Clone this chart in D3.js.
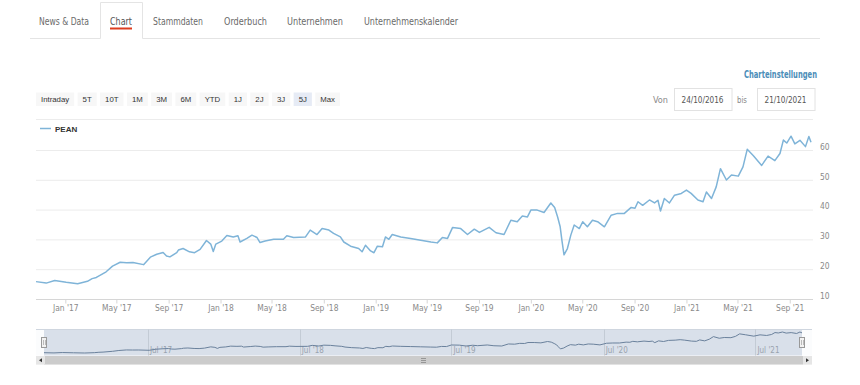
<!DOCTYPE html>
<html>
<head>
<meta charset="utf-8">
<script src="https://cdn.jsdelivr.net/npm/d3@7"></script>
<style>
  body { margin: 0; background: #fff; }
  svg { display: block; }
</style>
</head>
<body>
<div id="chart"></div>
<script>
// PEAN, 5J-Ansicht (24.10.2016 - 21.10.2021)
var dates = [
  "2016-10-24","2016-11-17","2016-12-07","2017-01-03","2017-01-30","2017-02-22","2017-03-05","2017-03-15",
  "2017-04-07","2017-04-22","2017-05-10","2017-05-25","2017-06-09","2017-07-04","2017-07-20","2017-08-04",
  "2017-08-19","2017-08-27","2017-09-04","2017-09-20","2017-09-24","2017-10-05","2017-10-20","2017-11-01",
  "2017-11-14","2017-11-29","2017-12-09","2017-12-15","2017-12-21","2018-01-04","2018-01-16","2018-01-31",
  "2018-02-11","2018-02-16","2018-03-04","2018-03-16","2018-03-28","2018-04-04","2018-04-16","2018-05-06",
  "2018-05-29","2018-06-06","2018-06-22","2018-07-20","2018-07-31","2018-08-16","2018-08-28","2018-09-13",
  "2018-09-24","2018-10-10","2018-10-18","2018-11-03","2018-11-22","2018-11-30","2018-12-08","2018-12-20",
  "2018-12-28","2019-01-05","2019-01-17","2019-01-24","2019-02-01","2019-02-09","2019-03-01","2019-03-24",
  "2019-04-17","2019-05-11","2019-05-26","2019-06-07","2019-06-19","2019-07-01","2019-07-20","2019-08-05",
  "2019-08-21","2019-09-02","2019-09-25","2019-10-11","2019-10-30","2019-11-15","2019-11-30","2019-12-12",
  "2019-12-24","2020-01-01","2020-01-16","2020-02-01","2020-02-17","2020-02-26","2020-03-04","2020-03-10",
  "2020-03-14","2020-03-19","2020-03-27","2020-04-04","2020-04-12","2020-04-24","2020-05-02","2020-05-13",
  "2020-05-25","2020-06-06","2020-06-22","2020-07-08","2020-07-23","2020-08-08","2020-08-24","2020-09-02",
  "2020-09-09","2020-09-20","2020-10-06","2020-10-18","2020-10-26","2020-11-01","2020-11-10","2020-11-22",
  "2020-12-04","2020-12-20","2021-01-01","2021-01-12","2021-01-28","2021-02-09","2021-02-17","2021-03-01",
  "2021-03-12","2021-03-22","2021-04-05","2021-04-17","2021-05-03","2021-05-14","2021-05-24","2021-06-07",
  "2021-06-27","2021-07-12","2021-07-28","2021-08-09","2021-08-17","2021-08-25","2021-09-04","2021-09-13",
  "2021-09-25","2021-10-08","2021-10-16","2021-10-21"
];
var prices = [
  16.0, 15.5, 16.4, 15.8, 15.3, 16.1, 17.0, 17.4,
  19.3, 21.2, 22.5, 22.3, 22.4, 21.7, 24.2, 25.2,
  25.8, 24.6, 24.3, 25.7, 26.6, 27.1, 26.0, 25.7,
  26.8, 29.8, 28.6, 26.1, 28.6, 29.6, 31.5, 31.0,
  31.4, 29.3, 30.5, 31.6, 30.8, 29.1, 29.6, 30.2,
  30.2, 31.4, 30.8, 31.0, 33.3, 31.8, 33.8, 33.3,
  32.2, 31.0, 29.3, 27.9, 27.1, 26.0, 28.2, 26.3,
  25.7, 27.9, 27.7, 31.0, 30.2, 31.8, 31.0, 30.5,
  29.9, 29.3, 29.0, 30.8, 30.5, 34.2, 33.8, 31.8,
  33.6, 32.5, 34.2, 32.4, 31.8, 36.6, 36.1, 38.0,
  37.7, 40.0, 40.0, 39.2, 42.4, 40.9, 37.7, 34.4,
  29.9, 25.0, 27.1, 31.6, 35.0, 33.8, 36.1, 34.4,
  36.6, 36.1, 34.4, 38.3, 38.9, 38.9, 40.9, 40.6,
  42.8, 41.6, 43.4, 42.4, 43.3, 39.7, 43.9, 42.4,
  45.0, 45.6, 46.7, 45.6, 43.4, 42.8, 46.1, 43.9,
  47.8, 53.9, 50.1, 51.8, 51.4, 54.5, 60.4, 58.3,
  55.0, 58.1, 56.6, 59.0, 63.5, 62.5, 64.8, 62.2,
  63.4, 61.3, 64.7, 62.8
];
var seriesName = "PEAN";
var xTicks = ["2017-01-01","2017-05-01","2017-09-01","2018-01-01","2018-05-01","2018-09-01","2019-01-01",
  "2019-05-01","2019-09-01","2020-01-01","2020-05-01","2020-09-01","2021-01-01","2021-05-01","2021-09-01"];
var yTicks = [10, 20, 30, 40, 50, 60];
var navTicks = ["2017-07-01","2018-07-01","2019-07-01","2020-07-01","2021-07-01"];
var tabs = ["News & Data", "Chart", "Stammdaten", "Orderbuch", "Unternehmen", "Unternehmenskalender"];
var tabX = [39, 110, 153, 224, 287, 364];
var tabW = [50, 22, 50, 43, 56, 94];
var ranges = ["Intraday","5T","10T","1M","3M","6M","YTD","1J","2J","3J","5J","Max"];
var fromDate = "24/10/2016", toDate = "21/10/2021";

var parse = d3.timeParse("%Y-%m-%d");
var narrow = "'Liberation Sans Narrow', 'DejaVu Sans Condensed', Arial, sans-serif";
var sans = "'Liberation Sans', Arial, sans-serif";
var lineColor = "#7fb4d8";

var data = dates.map(function(d, i) { return {date: parse(d), value: prices[i]}; });

var svg = d3.select("#chart").append("svg").attr("width", 860).attr("height", 385);

function draw_tabs()
{
  var g = svg.append("g");
  g.append("path")
    .attr("d", "M30,38.5H100.5M142.5,38.5H820M100.5,38.5V2.5H142.5V38.5")
    .attr("fill", "none").attr("stroke", "#e4e4e4");
  g.selectAll("text").data(tabs).enter().append("text")
    .attr("x", function(d, i) { return tabX[i]; })
    .attr("y", 24.5)
    .attr("font-family", narrow).attr("font-size", 10.5)
    .attr("textLength", function(d, i) { return tabW[i]; })
    .attr("lengthAdjust", "spacingAndGlyphs")
    .attr("fill", function(d, i) { return i == 1 ? "#555" : "#6a6a6a"; })
    .text(function(d) { return d; });
  g.append("rect").attr("x", 110).attr("y", 27.5).attr("width", 22).attr("height", 2).attr("fill", "#dd3c1e");
}

function draw_controls()
{
  var g = svg.append("g").attr("font-family", sans).attr("font-size", 7.8);
  var bx = 36;
  ranges.forEach(function(r, i) {
    var b = g.append("g");
    var rect = b.append("rect").attr("y", 92.5).attr("height", 13.5)
      .attr("fill", r == "5J" ? "#e6ebf5" : "#f7f7f7");
    var t = b.append("text").attr("y", 102).attr("fill", "#333").text(r);
    var w = t.node().getComputedTextLength() + 10;
    rect.attr("x", bx).attr("width", w);
    t.attr("x", bx + w / 2).attr("text-anchor", "middle");
    bx += w + 3.4;
  });

  svg.append("text").attr("x", 817).attr("y", 78).attr("text-anchor", "end")
    .attr("font-family", narrow).attr("font-size", 9.6).attr("font-weight", "bold")
    .attr("textLength", 73).attr("lengthAdjust", "spacingAndGlyphs")
    .attr("fill", "#4b8db8").text("Charteinstellungen");

  var f = svg.append("g").attr("font-family", narrow).attr("font-size", 8.4).attr("fill", "#888");
  f.append("text").attr("x", 653).attr("y", 103).attr("textLength", 15).attr("lengthAdjust", "spacingAndGlyphs").text("Von");
  f.append("text").attr("x", 737).attr("y", 103).attr("textLength", 10).attr("lengthAdjust", "spacingAndGlyphs").text("bis");
  [[674.5, fromDate], [757.5, toDate]].forEach(function(p) {
    f.append("rect").attr("x", p[0]).attr("y", 88.5).attr("width", 57.5).attr("height", 22)
      .attr("fill", "#fff").attr("stroke", "#e2e2e2");
    f.append("text").attr("x", p[0] + 7).attr("y", 103)
      .attr("textLength", 42).attr("lengthAdjust", "spacingAndGlyphs")
      .attr("fill", "#555").text(p[1]);
  });

  svg.append("line").attr("x1", 36).attr("x2", 813).attr("y1", 119.5).attr("y2", 119.5)
    .attr("stroke", "#ececec");
}

function draw_main()
{
  var x = d3.scaleTime().domain([parse("2016-10-24"), parse("2021-10-21")]).range([36, 811]);
  var y = d3.scaleLinear().domain([10, 60]).range([299.5, 150.5]);

  // legend
  svg.append("line").attr("x1", 40).attr("x2", 51).attr("y1", 128.5).attr("y2", 128.5)
    .attr("stroke", lineColor).attr("stroke-width", 1.5);
  svg.append("text").attr("x", 55).attr("y", 131.5)
    .attr("font-family", sans).attr("font-size", 8).attr("font-weight", "bold")
    .attr("fill", "#333").text(seriesName);

  svg.append("g").selectAll("line").data(yTicks.slice(1)).enter().append("line")
    .attr("x1", 36).attr("x2", 813)
    .attr("y1", function(d) { return y(d); }).attr("y2", function(d) { return y(d); })
    .attr("stroke", "#ececec");

  var fmt = function(d) { return d3.timeFormat("%b")(d) + " '" + d3.timeFormat("%y")(d); };
  var x_axis = d3.axisBottom(x).tickValues(xTicks.map(parse)).tickFormat(fmt).tickSize(4).tickSizeOuter(0);
  var gx = svg.append("g").attr("class", "x_axis").attr("transform", "translate(0,299.5)").call(x_axis);
  gx.select(".domain").remove();
  gx.selectAll(".tick line").attr("stroke", "#d6d6d6");
  gx.selectAll(".tick text").attr("font-family", narrow).attr("font-size", 8.4)
    .attr("fill", "#8a8a8a").attr("y", 6).attr("dy", "0.71em");
  svg.append("line").attr("x1", 36).attr("x2", 813).attr("y1", 299.5).attr("y2", 299.5)
    .attr("stroke", "#d6d6d6");

  var y_axis = d3.axisRight(y).tickValues(yTicks).tickSize(0);
  var gy = svg.append("g").attr("class", "y_axis").attr("transform", "translate(820,0)").call(y_axis);
  gy.select(".domain").remove();
  gy.selectAll(".tick text").attr("x", 0).attr("dy", "-0.15em")
    .attr("font-family", narrow).attr("font-size", 8.4).attr("fill", "#8a8a8a");

  var line = d3.line().x(function(d) { return x(d.date); }).y(function(d) { return y(d.value); });
  svg.append("path").datum(data).attr("d", line)
    .attr("fill", "none").attr("stroke", lineColor).attr("stroke-width", 1.5)
    .attr("stroke-linejoin", "round");
}

function draw_navigator()
{
  var top = 329.5, bottom = 355.5;
  var nx = d3.scaleTime().domain([parse("2016-10-24"), parse("2021-10-21")]).range([44, 802]);
  var ny = d3.scaleLinear().domain([d3.min(prices), d3.max(prices)]).range([353, 332]);
  var g = svg.append("g");

  g.append("rect").attr("x", 36).attr("y", top).attr("width", 776).attr("height", bottom - top)
    .attr("fill", "#fbfcfd");
  g.append("rect").attr("x", 44).attr("y", top).attr("width", 758).attr("height", bottom - top)
    .attr("fill", "#d9e0ea");
  g.append("line").attr("x1", 36).attr("x2", 812).attr("y1", top).attr("y2", top).attr("stroke", "#cfd6df");

  g.selectAll("line.grid").data(navTicks.map(parse)).enter().append("line")
    .attr("class", "grid")
    .attr("x1", function(d) { return Math.round(nx(d)) + 0.5; })
    .attr("x2", function(d) { return Math.round(nx(d)) + 0.5; })
    .attr("y1", top).attr("y2", bottom).attr("stroke", "#c3cbd5");
  g.selectAll("text").data(navTicks.map(parse)).enter().append("text")
    .attr("x", function(d) { return nx(d) + 2; }).attr("y", 353)
    .attr("font-family", narrow).attr("font-size", 8).attr("fill", "#99a3ae")
    .text(function(d) { return d3.timeFormat("%b")(d) + " '" + d3.timeFormat("%y")(d); });

  var line = d3.line().x(function(d) { return nx(d.date); }).y(function(d) { return ny(d.value); });
  g.append("path").datum(data).attr("d", line)
    .attr("fill", "none").attr("stroke", "#6a819c").attr("stroke-width", 1);

  [44, 802].forEach(function(hx) {
    g.append("rect").attr("x", hx - 2.5).attr("y", 337.5).attr("width", 5).attr("height", 10)
      .attr("fill", "#f2f2f2").attr("stroke", "#999");
    g.append("path").attr("d", "M" + (hx - 0.5) + ",340V345M" + (hx + 1.5) + ",340V345")
      .attr("stroke", "#bbb").attr("fill", "none");
  });

  // scrollbar
  var sy = 356, sh = 8.5;
  g.append("rect").attr("x", 36).attr("y", sy).attr("width", 776).attr("height", sh).attr("fill", "#f2f2f2");
  g.append("rect").attr("x", 44).attr("y", sy).attr("width", 759).attr("height", sh).attr("fill", "#cccccc");
  [[36, -1], [803, 1]].forEach(function(b) {
    g.append("rect").attr("x", b[0]).attr("y", sy).attr("width", 9).attr("height", sh).attr("fill", "#e6e6e6");
    var cx = b[0] + 4.5, cy = sy + sh / 2;
    g.append("path")
      .attr("d", "M" + (cx + 1.5 * b[1]) + "," + cy + "L" + (cx - 1.5 * b[1]) + "," + (cy - 2) + "L" + (cx - 1.5 * b[1]) + "," + (cy + 2) + "Z")
      .attr("fill", "#333");
  });
  g.append("path").attr("d", "M421,358.5H426M421,360.5H426M421,362.5H426")
    .attr("stroke", "#888").attr("stroke-width", 0.8);
}

draw_tabs();
draw_controls();
draw_main();
draw_navigator();
</script>
</body>
</html>
